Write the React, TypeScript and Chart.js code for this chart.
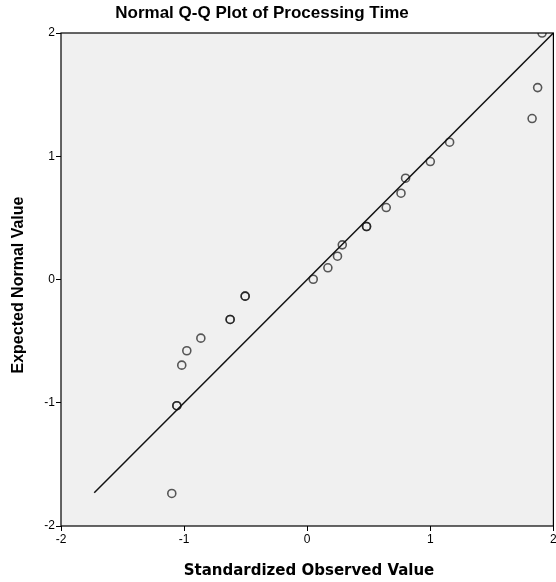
import React, { useEffect, useRef } from "react";
import { Chart, registerables } from "chart.js";

Chart.register(...registerables);

const chartTitle = "Normal Q-Q Plot of Processing Time";
const xAxisTitle = "Standardized Observed Value";
const yAxisTitle = "Expected Normal Value";

const observedValues = [
  1.908, 1.872, 1.827, 1.157, 1.0, 0.799, 0.762, 0.642, 0.482, 0.482, 0.285, 0.246,
  0.168, 0.049, -0.504, -0.504, -0.626, -0.626, -0.864, -0.978, -1.019, -1.059, -1.059, -1.1,
];
const expectedValues = [
  2.0, 1.557, 1.306, 1.114, 0.957, 0.822, 0.7, 0.584, 0.43, 0.43, 0.281, 0.189,
  0.095, 0.002, -0.135, -0.135, -0.324, -0.324, -0.476, -0.578, -0.695, -1.024, -1.024, -1.736,
];
const referenceLineX = [-1.73, 2];
const referenceLineY = [-1.73, 2];
const axisMin = -2;
const axisMax = 2;
const tickStep = 1;

const W = 556;
const H = 582;
const CANVAS_W = 559;

const decorPlugin = {
  id: "qqDecor",
  beforeDraw(chart: any) {
    const { ctx, chartArea: a } = chart;
    ctx.save();
    ctx.fillStyle = "#f0f0f0";
    ctx.fillRect(a.left, a.top, a.right - a.left, a.bottom - a.top);
    ctx.restore();
  },
  afterDraw(chart: any) {
    const { ctx, chartArea: a } = chart;
    ctx.save();
    ctx.strokeStyle = "#000";
    ctx.lineWidth = 1.2;
    ctx.strokeRect(a.left, a.top, a.right - a.left, a.bottom - a.top);

    ctx.fillStyle = "#000";
    ctx.textAlign = "center";
    ctx.textBaseline = "middle";
    ctx.font = "bold 17px 'Liberation Sans', Arial, sans-serif";
    ctx.fillText(chartTitle, 262, 13);

    ctx.font = "bold 15px 'DejaVu Sans', Verdana, sans-serif";
    ctx.fillText(xAxisTitle, 309, 571);

    ctx.translate(19, 285);
    ctx.rotate(-Math.PI / 2);
    ctx.font = "bold 16px 'Liberation Sans', Arial, sans-serif";
    ctx.fillText(yAxisTitle, 0, 0);
    ctx.restore();
  },
};

export default function App() {
  const ref = useRef<HTMLCanvasElement | null>(null);

  useEffect(() => {
    document.body.style.margin = "0";
    if (!ref.current) return;
    const points = observedValues.map((x, i) => ({ x, y: expectedValues[i] }));
    const line = referenceLineX.map((x, i) => ({ x, y: referenceLineY[i] }));
    const tickFont = { family: "'Liberation Sans', Arial, sans-serif", size: 12 };
    const chart = new Chart(ref.current, {
      type: "scatter",
      data: {
        datasets: [
          {
            type: "line",
            data: line,
            borderColor: "#111",
            borderWidth: 1.5,
            pointRadius: 0,
            fill: false,
            clip: 0,
          } as any,
          {
            type: "scatter",
            data: points,
            pointRadius: 4,
            pointBorderWidth: 1.6,
            borderColor: "rgba(20,20,20,0.7)",
            backgroundColor: "rgba(0,0,0,0)",
            pointBackgroundColor: "rgba(0,0,0,0)",
            clip: 0,
          } as any,
        ],
      },
      options: {
        responsive: false,
        animation: false,
        devicePixelRatio: 1,
        layout: { padding: { top: 33, right: 3, left: 0, bottom: 0 } },
        plugins: { legend: { display: false }, tooltip: { enabled: false }, title: { display: false } },
        scales: {
          x: {
            type: "linear",
            min: axisMin,
            max: axisMax,
            ticks: { stepSize: tickStep, color: "#000", font: tickFont, padding: 1 },
            grid: { drawOnChartArea: false, drawTicks: true, tickLength: 5, color: "#000", lineWidth: 1 },
            border: { display: false },
            afterFit(scale: any) {
              scale.height = 56;
            },
          },
          y: {
            type: "linear",
            min: axisMin,
            max: axisMax,
            ticks: { stepSize: tickStep, color: "#000", font: tickFont, padding: 1 },
            grid: { drawOnChartArea: false, drawTicks: true, tickLength: 5, color: "#000", lineWidth: 1 },
            border: { display: false },
            afterFit(scale: any) {
              scale.width = 61;
            },
          },
        },
      } as any,
      plugins: [decorPlugin],
    });
    return () => chart.destroy();
  }, []);

  return (
    <div style={{ position: "fixed", left: 0, top: 0, width: W, height: H, overflow: "hidden", background: "#fff" }}>
      <canvas ref={ref} width={CANVAS_W} height={H} style={{ width: CANVAS_W, height: H, display: "block" }} />
    </div>
  );
}
